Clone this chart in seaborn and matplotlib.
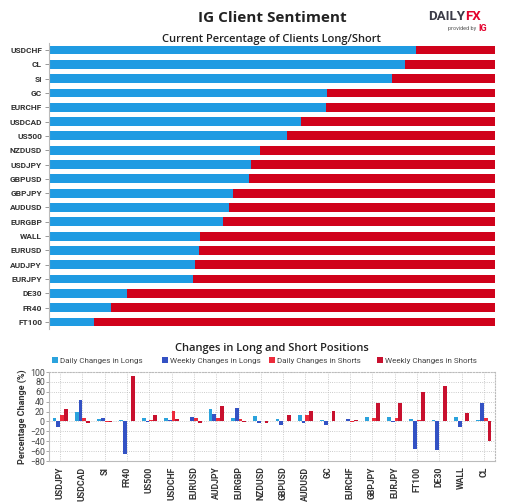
import pandas as pd
import matplotlib.pyplot as plt
import seaborn as sns

# top chart: % of clients long (short = 100 - long)
sent_symbols = ["USDCHF", "CL", "SI", "GC", "EURCHF", "USDCAD", "US500", "NZDUSD",
                "USDJPY", "GBPUSD", "GBPJPY", "AUDUSD", "EURGBP", "WALL", "EURUSD",
                "AUDJPY", "EURJPY", "DE30", "FR40", "FT100"]
pct_long = [82.3, 79.8, 76.8, 62.4, 62.0, 56.6, 53.4, 47.2, 45.2, 44.9,
            41.2, 40.4, 39.1, 33.9, 33.7, 32.8, 32.2, 17.4, 13.8, 10.0]

# bottom chart: changes in positions (%)
chg_symbols = ["USDJPY", "USDCAD", "SI", "FR40", "US500", "USDCHF", "EURUSD", "AUDJPY",
               "EURGBP", "NZDUSD", "GBPUSD", "AUDUSD", "GC", "EURCHF", "GBPJPY",
               "EURJPY", "FT100", "DE30", "WALL", "CL"]
daily_longs = [6, 20, 4, 3, 7, 7, 1, 25, 7, 12, 5.5, 13.5, 3.5, 1, 8, 10, 5.5, 3.5, 10, 3.5]
weekly_longs = [-11.5, 43, 7, -65, -1, 3, 10, 16, 28, -4, -8, -4, -7, 5.5, 1.5, -2, -55, -58, -11.5, 38]
daily_shorts = [13, 7.5, -1, 1.5, 2, 22, 7, 7.5, 4, 0.5, 1, 13.5, 0.5, -1, 7, 7, 2, 1.5, 1.5, 7]
weekly_shorts = [26, -4, -1, 92, 14, 4, -3, 32, -2, -4, 13.5, 22, 22, 3.5, 38, 38, 60, 71, 17, -39]

series_names = ["Daily Changes in Longs", "Weekly Changes in Longs",
                "Daily Changes in Shorts", "Weekly Changes in Shorts"]
series_colors = ["#2ba3dd", "#3352c4", "#ec2b3b", "#c8102e"]

plt.rcParams["font.family"] = ["Roboto", "DejaVu Sans"]

fig = plt.figure(figsize=(5.13, 5.04), dpi=100)

# ---- top chart ----
ax1 = fig.add_axes([0.0955, 0.347, 0.8695, 0.568])
sent = pd.DataFrame({"symbol": sent_symbols, "long": pct_long, "total": 100})
sns.barplot(data=sent, x="total", y="symbol", color="#d0021b", width=0.62,
            saturation=1, ax=ax1)
sns.barplot(data=sent, x="long", y="symbol", color="#1f9be2", width=0.62,
            saturation=1, ax=ax1)
ax1.set_xlim(0, 100)
ax1.set_xlabel("")
ax1.set_ylabel("")
ax1.set_xticks([])
for s in ["top", "right", "bottom"]:
    ax1.spines[s].set_visible(False)
ax1.spines["left"].set_color("#bbbbbb")
ax1.tick_params(axis="y", length=3, width=0.6, color="#888888", pad=2,
                labelsize=6, labelcolor="#333333")
for lbl in ax1.get_yticklabels():
    lbl.set_fontweight("bold")

# ---- bottom chart ----
ax2 = fig.add_axes([0.0955, 0.0853, 0.8695, 0.1766])
chg = pd.DataFrame({"symbol": chg_symbols,
                    series_names[0]: daily_longs,
                    series_names[1]: weekly_longs,
                    series_names[2]: daily_shorts,
                    series_names[3]: weekly_shorts})
chg_long = chg.melt(id_vars="symbol", var_name="series", value_name="change")
sns.barplot(data=chg_long, x="symbol", y="change", hue="series",
            hue_order=series_names, palette=series_colors, width=0.68,
            saturation=1, ax=ax2, legend=True)
ax2.set_ylim(-80, 100)
ax2.set_yticks(range(-80, 101, 20))
ax2.set_xlabel("")
ax2.set_ylabel("Percentage Change (%)", fontsize=6.5, fontweight="bold",
               color="#333333", labelpad=2)
ax2.grid(True, linestyle=":", color="#bbbbbb", linewidth=0.6)
ax2.set_axisbelow(True)
for s in ["top", "right"]:
    ax2.spines[s].set_linestyle(":")
    ax2.spines[s].set_color("#bbbbbb")
for s in ["left", "bottom"]:
    ax2.spines[s].set_color("#bbbbbb")
ax2.tick_params(axis="y", length=2, width=0.5, color="#888888", pad=1,
                labelsize=6.3, labelcolor="#444444")
ax2.tick_params(axis="x", length=0, pad=4, labelsize=6.3, labelcolor="#333333",
                rotation=90)
for lbl in ax2.get_xticklabels():
    lbl.set_fontweight("bold")

# legend: one entry per fixed slot, like the original
handles, labels = ax2.get_legend_handles_labels()
ax2.get_legend().remove()
legend_x = [0.102, 0.316, 0.525, 0.735]
for h, l, x in zip(handles, labels, legend_x):
    fig.legend([h], [l], loc="center left", bbox_to_anchor=(x, 0.285),
               frameon=False, fontsize=5.8, handlelength=0.7, handleheight=0.7,
               handletextpad=0.3, borderpad=0, borderaxespad=0,
               labelcolor="#444444")

# ---- titles and logo ----
fig.text(0.53, 0.964, "IG Client Sentiment", ha="center", va="center",
         fontsize=11, fontweight="bold", color="#222222", family=["Open Sans", "DejaVu Sans"])
fig.text(0.53, 0.922, "Current Percentage of Clients Long/Short", ha="center", va="center",
         fontsize=8, fontweight="semibold", color="#222222", family=["Open Sans", "DejaVu Sans"])
fig.text(0.53, 0.309, "Changes in Long and Short Positions", ha="center", va="center",
         fontsize=8, fontweight="semibold", color="#222222", family=["Open Sans", "DejaVu Sans"])
fig.text(0.906, 0.967, "DAILY", ha="right", va="center", fontsize=9.5,
         fontweight="bold", color="#3c3c48")
fig.text(0.906, 0.967, "FX", ha="left", va="center", fontsize=9.5,
         fontweight="bold", color="#e4032e")
fig.text(0.928, 0.944, "provided by", ha="right", va="center", fontsize=4,
         color="#555555")
fig.text(0.932, 0.944, "IG", ha="left", va="center", fontsize=6.5,
         fontweight="bold", color="#e4032e")

fig.savefig("out.png", dpi=100)
